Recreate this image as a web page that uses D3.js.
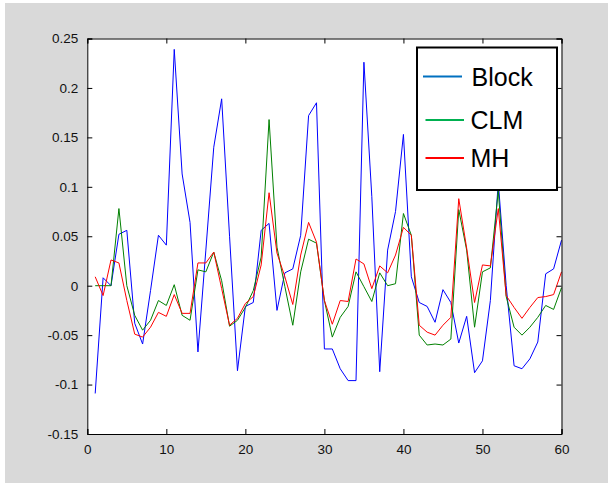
<!DOCTYPE html>
<html><head><meta charset="utf-8">
<script src="https://cdn.jsdelivr.net/npm/d3@7"></script>
<style>html,body{margin:0;padding:0;background:#fff;}svg{display:block;}</style>
</head><body>
<script>
const xs = d3.range(1, 61);
const block = [-0.109,0.008,0.0,0.052,0.056,-0.038,-0.059,-0.005,0.051,0.041,
0.239,0.113,0.064,-0.067,0.036,0.140,0.189,0.05,-0.086,-0.021,
-0.017,0.056,0.063,-0.025,0.013,0.017,0.051,0.172,0.185,-0.064,
-0.064,-0.084,-0.096,-0.096,0.226,0.09,-0.087,0.036,0.075,0.153,
0.009,-0.017,-0.021,-0.037,-0.004,-0.017,-0.058,-0.031,-0.088,-0.076,
-0.015,0.105,0.0,-0.081,-0.084,-0.074,-0.057,0.012,0.017,0.046];
const clm = [0.0,0.0,0.0,0.078,0.0,-0.030,-0.045,-0.035,-0.015,-0.020,
0.001,-0.030,-0.035,0.016,0.014,0.034,0.005,-0.041,-0.035,-0.022,
-0.005,0.029,0.168,0.039,-0.001,-0.040,0.014,0.047,0.043,-0.015,
-0.052,-0.032,-0.021,0.014,-0.001,-0.016,0.013,0.0,0.002,0.073,
0.051,-0.050,-0.060,-0.059,-0.060,-0.054,0.077,0.036,-0.042,0.014,
0.018,0.096,-0.011,-0.042,-0.050,-0.042,-0.032,-0.020,-0.024,-0.002];
const mh = [0.009,-0.010,0.026,0.023,-0.015,-0.049,-0.052,-0.042,-0.027,-0.031,
-0.009,-0.028,-0.028,0.023,0.023,0.034,-0.003,-0.040,-0.033,-0.018,
-0.011,0.021,0.094,0.033,0.009,-0.019,0.031,0.064,0.044,-0.015,
-0.039,-0.015,-0.016,0.027,0.022,-0.003,0.020,0.013,0.031,0.059,
0.051,-0.040,-0.047,-0.050,-0.040,-0.032,0.088,0.038,-0.017,0.021,
0.020,0.078,-0.010,-0.022,-0.033,-0.022,-0.012,-0.011,-0.009,0.014];
const xTicks = [0,10,20,30,40,50,60];
const yTicks = [-0.15,-0.1,-0.05,0,0.05,0.1,0.15,0.2,0.25];
const yTickLabels = ["-0.15","-0.1","-0.05","0","0.05","0.1","0.15","0.2","0.25"];
const seriesNames = ["Block","CLM","MH"];
const lineColors = ["#0000ff","#008000","#ff0000"];
const legendColors = ["#0070c0","#00b050","#ff0000"];

const W = 613, H = 486;
const L = 87.3, R = 561.5, T = 38.5, B = 434;
const svg = d3.select("body").append("svg").attr("width", W).attr("height", H);
svg.append("rect").attr("x",5).attr("y",3).attr("width",603).attr("height",480).attr("fill","#d9d9d9");

const x = d3.scaleLinear().domain([0,60]).range([L,R]);
const y = d3.scaleLinear().domain([-0.15,0.25]).range([B,T]);

svg.append("rect").attr("x",L).attr("y",T).attr("width",R-L).attr("height",B-T).attr("fill","#fff");

const g = svg.append("g");
const line = d3.line().x((d,i)=>x(xs[i])).y(d=>y(d));
[block, clm, mh].forEach((s,k)=>{
  g.append("path").datum(s).attr("d", line).attr("fill","none")
   .attr("stroke", lineColors[k]).attr("stroke-width",1).attr("stroke-linejoin","miter");
});

const font = "Liberation Sans, Arial, sans-serif";
const axB = svg.append("g").attr("transform",`translate(0,${B})`)
  .call(d3.axisBottom(x).tickValues(xTicks).tickSize(-5).tickPadding(10).tickFormat(d3.format("d")));
const axL = svg.append("g").attr("transform",`translate(${L},0)`)
  .call(d3.axisLeft(y).tickValues(yTicks).tickSize(-5).tickPadding(9).tickFormat((d,i)=>yTickLabels[i]));
const axT = svg.append("g").attr("transform",`translate(0,${T})`)
  .call(d3.axisTop(x).tickValues(xTicks).tickSize(-5).tickFormat(""));
const axR = svg.append("g").attr("transform",`translate(${R},0)`)
  .call(d3.axisRight(y).tickValues(yTicks).tickSize(-5).tickFormat(""));
[axB,axL,axT,axR].forEach(a=>{
  a.select(".domain").attr("stroke","#000").attr("stroke-width",1);
  a.selectAll(".tick line").attr("stroke","#000");
  a.selectAll("text").attr("font-family",font).attr("font-size",13.5).attr("fill","#111");
});

const lg = svg.append("g");
lg.append("rect").attr("x",417).attr("y",47.5).attr("width",140).attr("height",142.5)
  .attr("fill","#fff").attr("stroke","#000").attr("stroke-width",2);
const ly = [76.5,120,158];
seriesNames.forEach((n,k)=>{
  lg.append("line").attr("x1", k===0?423:425.5).attr("x2", k===0?462:464).attr("y1",ly[k]).attr("y2",ly[k])
    .attr("stroke",legendColors[k]).attr("stroke-width",2);
  lg.append("text").attr("x", k===0?471.5:470.5).attr("y",ly[k]+9).text(n)
    .attr("font-family",font).attr("font-size",25).attr("fill","#000");
});
</script>
</body></html>
